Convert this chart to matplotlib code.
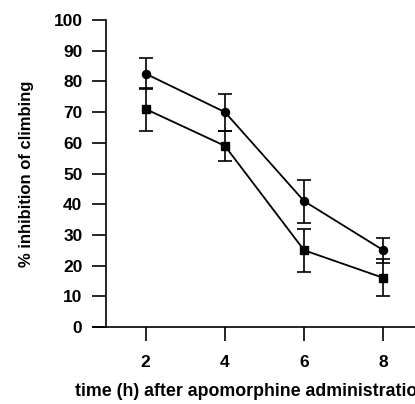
import matplotlib
matplotlib.use("Agg")
import matplotlib.pyplot as plt

plt.rcParams["font.family"] = ["Liberation Sans", "DejaVu Sans"]
plt.rcParams["font.weight"] = "bold"

hours = [2, 4, 6, 8]
circle_mean = [82.5, 70, 41, 25]
circle_err = [5, 6, 7, 4]
square_mean = [71, 59, 25, 16]
square_err = [7, 5, 7, 6]

y_ticks = [0, 10, 20, 30, 40, 50, 60, 70, 80, 90, 100]

fig = plt.figure(figsize=(4.15, 4.04), dpi=100)
ax = fig.add_axes([93 / 415, 1 - 327 / 404, 1 - 93 / 415, (327 - 20) / 404])

ax.errorbar(hours, circle_mean, yerr=circle_err, color="black", marker="o",
            markersize=5.8, linewidth=1.3, elinewidth=1.2, capsize=5,
            capthick=1.2, clip_on=False)
ax.errorbar(hours, square_mean, yerr=square_err, color="black", marker="s",
            markersize=5.5, linewidth=1.3, elinewidth=1.2, capsize=5,
            capthick=1.2, clip_on=False)

ax.set_xlim(0.67, 8.80)
ax.set_ylim(0, 100)
ax.set_xticks(hours)
ax.set_yticks(y_ticks)

ax.spines["top"].set_visible(False)
ax.spines["right"].set_visible(False)
ax.spines["left"].set_position(("data", 1))
ax.spines["left"].set_linewidth(1.2)
ax.spines["bottom"].set_linewidth(1.2)
ax.tick_params(direction="out", length=10, width=1.2, labelsize=12.5, pad=7)
ax.tick_params(axis="x", pad=10)

for lab in ax.get_xticklabels() + ax.get_yticklabels():
    lab.set_fontweight("bold")

ax.set_ylabel("% inhibition of climbing", fontsize=12, fontweight="bold",
              labelpad=14)
# the original figure cuts the last letter of this label at the right edge
fig.text(75 / 415, (404 - 396) / 404, "time (h) after apomorphine administration",
         fontsize=12.8, fontweight="bold", ha="left", va="baseline")

fig.savefig("out.png", dpi=100)
